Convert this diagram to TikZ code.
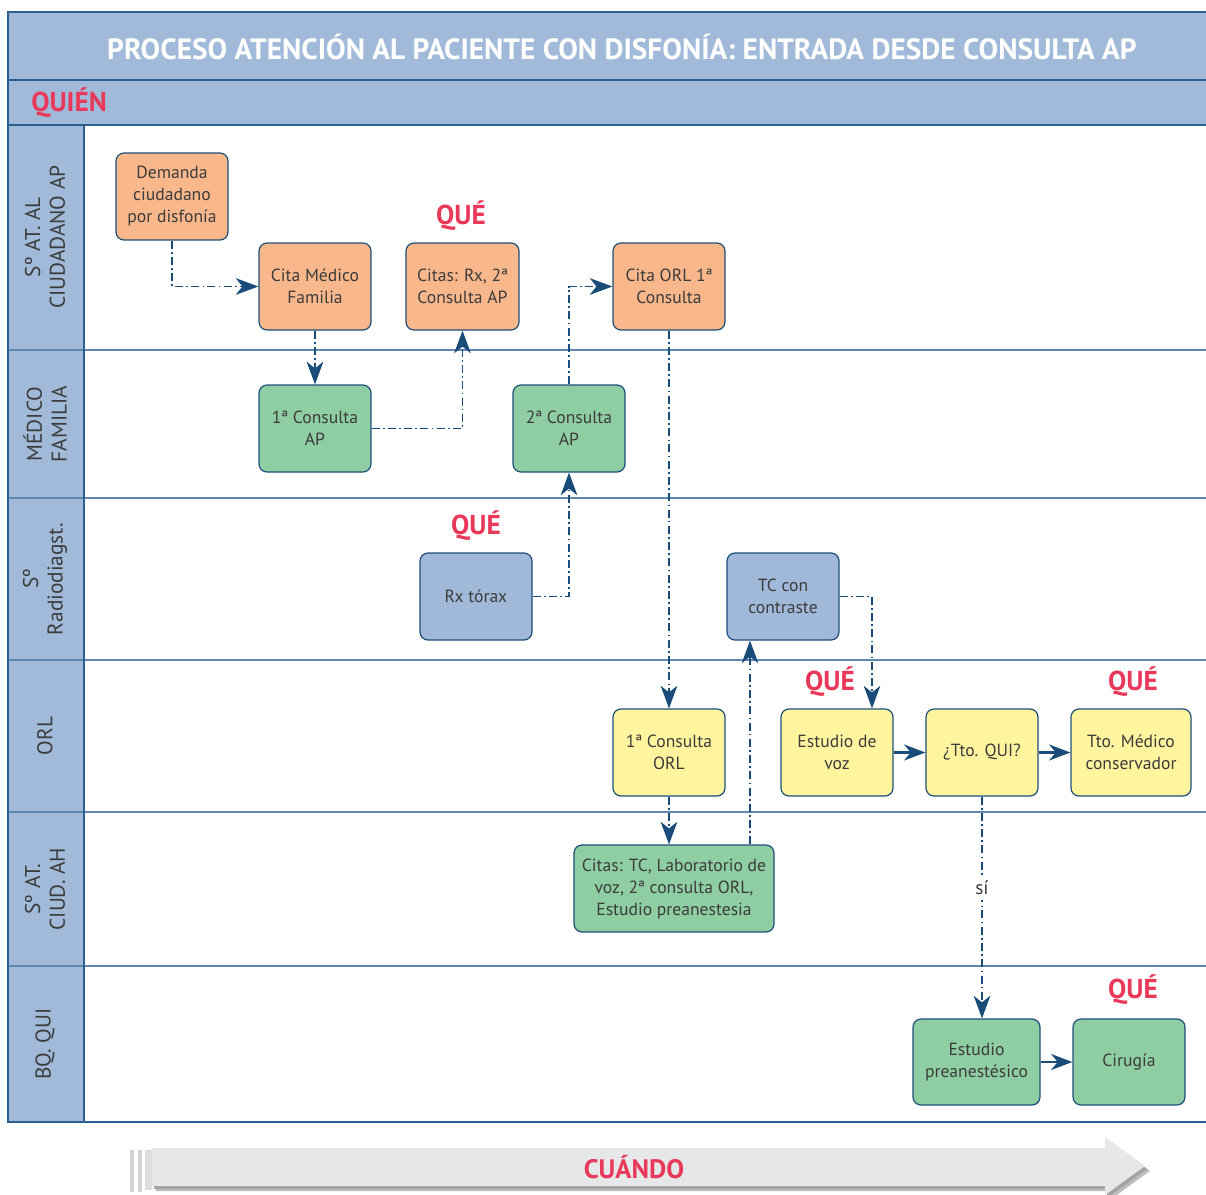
\documentclass[tikz,border=0pt]{standalone}
\usepackage{fontspec}
\setmainfont{PT Sans}
\usetikzlibrary{arrows.meta,calc}
\definecolor{hdr}{HTML}{A1BAD9}
\definecolor{frameblue}{HTML}{2A5F8F}
\definecolor{laneline}{HTML}{5F87B0}
\definecolor{boxline}{HTML}{1F4E79}
\definecolor{txtgrey}{HTML}{3C3C3C}
\definecolor{quered}{HTML}{E8395A}
\definecolor{arrowblue}{HTML}{1A4C7A}
\definecolor{orangebox}{HTML}{F9B88B}
\definecolor{greenbox}{HTML}{8ECEA2}
\definecolor{bluebox}{HTML}{A0B9D9}
\definecolor{yellowbox}{HTML}{FFF59E}
\definecolor{arrowgrey}{HTML}{E6E7E8}
\definecolor{shadowgrey}{HTML}{A3A3A3}
\tikzset{
  box/.style={draw=boxline, line width=0.9pt, rounded corners=6pt,
    minimum width=84pt, minimum height=65.25pt, inner sep=0pt, align=center,
    text=txtgrey, font=\fontsize{13.2}{16.5}\selectfont},
  obox/.style={box, fill=orangebox},
  gbox/.style={box, fill=greenbox},
  bbox/.style={box, fill=bluebox},
  ybox/.style={box, fill=yellowbox},
  que/.style={text=quered, font=\bfseries\fontsize{20.5}{24}\selectfont},
  lanelabel/.style={rotate=90, align=center, text=txtgrey,
    font=\fontsize{16}{18.5}\selectfont},
  flow/.style={draw=arrowblue, line width=0.9pt,
    dash pattern=on 6pt off 2.5pt on 1.2pt off 2.5pt,
    -{Stealth[length=17pt,width=12.5pt,inset=5pt]}},
  solidflow/.style={draw=arrowblue, line width=1.6pt,
    -{Stealth[length=16pt,width=12pt,inset=5pt]}},
}
\begin{document}
\begin{tikzpicture}[x=0.75pt,y=-0.75pt]
\useasboundingbox (0,0) rectangle (1206,1195);
% header bands
\fill[hdr] (8,12) rectangle (1210,125);
\fill[hdr] (8,125) rectangle (84,1122);
\draw[frameblue, line width=0.9pt] (8,80) -- (1210,80);
\draw[frameblue, line width=0.9pt] (8,125) -- (1210,125);
% lane separators
\foreach \yy in {350,498,660,812,966}{
  \draw[laneline, line width=0.9pt] (8,\yy) -- (1210,\yy);
}
\draw[frameblue, line width=0.9pt] (84,125) -- (84,1122);
\draw[frameblue, line width=1pt] (8,12) rectangle (1210,1122);
% title
\node[text=white, font=\bfseries\fontsize{22}{25}\selectfont] (title) at (622,47)
  {PROCESO ATENCIÓN AL PACIENTE CON DISFONÍA: ENTRADA DESDE CONSULTA AP};
\node[que, anchor=west, inner sep=0pt] (quien) at (31,103) {QUIÉN};
% lane labels
\node[lanelabel] (l1) at (45,237) {Sº AT. AL\\CIUDADANO AP};
\node[lanelabel] (l2) at (45,424) {MÉDICO\\FAMILIA};
\node[lanelabel] (l3) at (45,579) {Sº\\Radiodiagst.};
\node[lanelabel] (l4) at (45,736) {ORL};
\node[lanelabel] (l5) at (45,889) {Sº AT.\\CIUD. AH};
\node[lanelabel] (l6) at (45,1044) {BQ. QUI};
% QUÉ labels
\node[que] (q1) at (461,216) {QUÉ};
\node[que] (q2) at (476,526) {QUÉ};
\node[que] (q3) at (830,682) {QUÉ};
\node[que] (q4) at (1133,682) {QUÉ};
\node[que] (q5) at (1133,990) {QUÉ};
% boxes
\node[obox] (dem) at (172,196.5) {Demanda\\ciudadano\\por disfonía};
\node[obox] (cmf) at (315,286.5) {Cita Médico\\Familia};
\node[obox, minimum width=84.75pt] (crx) at (462.5,286.5) {Citas: Rx, 2ª\\Consulta AP};
\node[obox] (corl) at (669,286.5) {Cita ORL 1ª\\Consulta};
\node[gbox] (c1ap) at (315,428.5) {1ª Consulta\\AP};
\node[gbox] (c2ap) at (569,428.5) {2ª Consulta\\AP};
\node[bbox] (rx) at (476,596.5) {Rx tórax};
\node[bbox] (tc) at (783,596.5) {TC con\\contraste};
\node[ybox] (c1orl) at (669,752.5) {1ª Consulta\\ORL};
\node[ybox] (ev) at (837,752.5) {Estudio de\\voz};
\node[ybox] (tqui) at (982,752.5) {¿Tto. QUI?};
\node[ybox, minimum width=90pt] (tmed) at (1131,752.5) {Tto. Médico\\conservador};
\node[gbox, minimum width=150pt] (ctc) at (674,888.5) {Citas: TC, Laboratorio de\\voz, 2ª consulta ORL,\\Estudio preanestesia};
\node[gbox, minimum width=95.25pt, minimum height=64.5pt] (epre) at (976.5,1062) {Estudio\\preanestésico};
\node[gbox, minimum height=64.5pt] (cir) at (1129,1062) {Cirugía};
% helper coordinates
\coordinate (tcin) at ([xshift=-24.75pt]tc.south);
\coordinate (evin) at ([xshift=26.25pt]ev.north);
% connectors
\draw[flow] (dem.south) |- (cmf.west);
\draw[flow] (cmf) -- (c1ap);
\draw[flow] (c1ap.east) -| (crx.south);
\draw[flow] (c2ap.north) |- (corl.west);
\draw[flow] (rx.east) -| (c2ap.south);
\draw[flow] (corl) -- (c1orl);
\draw[flow] (c1orl.south) -- (c1orl.south |- ctc.north);
\draw[flow] (ctc.north -| tcin) -- (tcin);
\draw[flow] (tc.east) -| (evin);
\draw[solidflow] (ev) -- (tqui);
\draw[solidflow] (tqui) -- (tmed);
\draw[flow] (tqui.south) -- node[pos=0.41, fill=white, inner sep=4pt, text=txtgrey,
  font=\fontsize{14.5}{17}\selectfont] (si) {sí} (tqui.south |- epre.north);
\draw[solidflow] (epre) -- (cir);
% time arrow
\fill[shadowgrey!70] (156,1153) -- (1109,1153) -- (1109,1142) -- (1150,1171) -- (1110,1200) -- (1110,1191) -- (156,1191) -- cycle;
\fill[shadowgrey] (154,1151) -- (1107,1151) -- (1107,1140) -- (1147,1169) -- (1107,1198) -- (1107,1189) -- (154,1189) -- cycle;
\fill[arrowgrey] (152,1148) -- (1105,1148) -- (1105,1137) -- (1145,1166) -- (1105,1195) -- (1105,1186) -- (152,1186) -- cycle;
\fill[arrowgrey!80!gray] (130,1150) rectangle (134,1192);
\fill[arrowgrey!80!gray] (138,1150) rectangle (142,1192);
\fill[arrowgrey!90!gray] (145,1150) rectangle (152,1190);
\node[text=quered, font=\bfseries\fontsize{20}{24}\selectfont] (cuando) at (634,1167) {CUÁNDO};
\end{tikzpicture}
\end{document}
